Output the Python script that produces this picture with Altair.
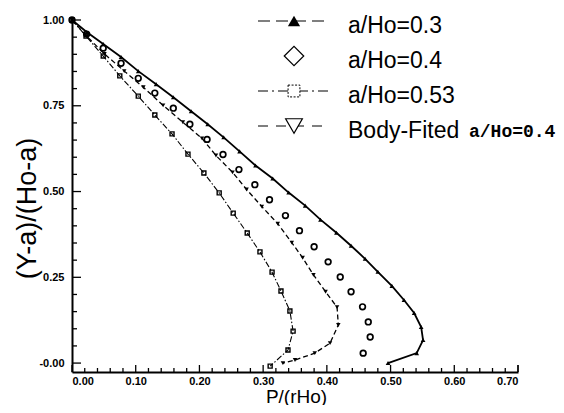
import altair as alt
import pandas as pd

# ---- data ----
# a/Ho=0.3 (solid line, filled triangles)
x03 = [0.000, 0.023, 0.049, 0.077, 0.104, 0.132, 0.159, 0.187, 0.213, 0.238, 0.263, 0.288, 0.315, 0.340,
       0.366, 0.390, 0.415, 0.438, 0.460, 0.480, 0.502, 0.521, 0.537, 0.548, 0.551, 0.541, 0.496]
y03 = [1.000, 0.965, 0.930, 0.892, 0.851, 0.813, 0.775, 0.734, 0.696, 0.658, 0.617, 0.576, 0.538, 0.497,
       0.459, 0.418, 0.380, 0.342, 0.304, 0.266, 0.225, 0.184, 0.146, 0.105, 0.067, 0.029, 0.000]
# a/Ho=0.4 (open circles, no line)
x04 = [0.000, 0.023, 0.049, 0.077, 0.104, 0.130, 0.159, 0.185, 0.212, 0.237, 0.262, 0.287, 0.310, 0.335,
       0.357, 0.380, 0.402, 0.421, 0.438, 0.456, 0.465, 0.468, 0.457]
y04 = [1.000, 0.959, 0.918, 0.874, 0.830, 0.787, 0.743, 0.696, 0.652, 0.608, 0.564, 0.520, 0.476, 0.430,
       0.386, 0.339, 0.295, 0.251, 0.208, 0.164, 0.120, 0.076, 0.029]
# a/Ho=0.53 (dash-dot line, small squares)
x053 = [0.000, 0.022, 0.049, 0.075, 0.104, 0.130, 0.157, 0.182, 0.207, 0.231, 0.253, 0.275, 0.295, 0.314,
        0.328, 0.342, 0.347, 0.339, 0.311]
y053 = [1.000, 0.953, 0.895, 0.837, 0.778, 0.723, 0.668, 0.609, 0.554, 0.496, 0.437, 0.379, 0.324, 0.265,
        0.210, 0.152, 0.093, 0.038, -0.009]
# Body-Fited a/Ho=0.4 (dashed line, small down triangles)
xbf = [0.000, 0.023, 0.051, 0.082, 0.112, 0.143, 0.174, 0.204, 0.226, 0.252, 0.274, 0.298, 0.323, 0.345,
       0.362, 0.379, 0.398, 0.416, 0.418, 0.405, 0.381, 0.350, 0.331]
ybf = [1.000, 0.953, 0.901, 0.851, 0.804, 0.751, 0.702, 0.655, 0.605, 0.556, 0.506, 0.456, 0.406, 0.351,
       0.307, 0.257, 0.208, 0.163, 0.111, 0.058, 0.029, 0.009, 0.000]

x_labels = [0.0, 0.1, 0.2, 0.3, 0.4, 0.5, 0.6, 0.7]
y_labels = [0.0, 0.25, 0.5, 0.75, 1.0]
x_minor = [round(i * 0.02, 2) for i in range(36)]
y_minor = [round(i * 0.05, 2) for i in range(21)]

legend_labels = ["a/Ho=0.3", "a/Ho=0.4", "a/Ho=0.53", "Body-Fited "]
legend_mono = "a/Ho=0.4"

W, H = 446, 352
SANS = "Liberation Sans"
xs = alt.Scale(domain=[0, 0.7], nice=False, zero=False)
ys = alt.Scale(domain=[-0.026, 1.0], nice=False, zero=False)


def frame(x, y):
    return pd.DataFrame({"x": x, "y": y})


one = alt.Data(values=[{"a": 1}])

x_axis = alt.Axis(values=x_labels, format=".2f", ticks=False, grid=False, domainColor="black",
                  domainWidth=2, labelFont=SANS, labelFontWeight="bold", labelFontSize=11,
                  labelColor="black", labelPadding=3, title="P/(rHo)", titleFont=SANS,
                  titleFontSize=19, titleFontWeight="normal", titleColor="black",
                  titleX=224, titleY=30, titleBaseline="alphabetic", titleAlign="center")
y_axis = alt.Axis(values=y_labels, ticks=False, grid=False, domainColor="black", domainWidth=2,
                  labelExpr="datum.value == 0 ? '-0.00' : format(datum.value, '.2f')",
                  labelFont=SANS, labelFontWeight="bold", labelFontSize=11, labelColor="black",
                  labelPadding=8, title="(Y-a)/(Ho-a)", titleFont=SANS, titleFontSize=27,
                  titleFontWeight="normal", titleColor="black", titleX=-45, titleY=188,
                  titleAlign="center", titleBaseline="middle")


def X():
    return alt.X("x:Q", scale=xs, axis=x_axis)


def Y():
    return alt.Y("y:Q", scale=ys, axis=y_axis)


layers = []

# a/Ho=0.3
layers.append(alt.Chart(frame(x03, y03)).transform_window(idx="row_number()").mark_line(
    color="black", strokeWidth=1.8).encode(x=X(), y=Y(), order="idx:Q"))
layers.append(alt.Chart(frame(x03, y03)).mark_point(shape="triangle-up", filled=True, size=22,
                                                     color="black", opacity=1).encode(x=X(), y=Y()))
# a/Ho=0.4
layers.append(alt.Chart(frame(x04, y04)).mark_point(shape="circle", filled=False, size=32,
                                                     strokeWidth=1.7, color="black", opacity=1).encode(x=X(), y=Y()))
# a/Ho=0.53
layers.append(alt.Chart(frame(x053, y053)).transform_window(idx="row_number()").mark_line(
    color="black", strokeWidth=1.1, strokeDash=[6, 2, 1.5, 2]).encode(x=X(), y=Y(), order="idx:Q"))
layers.append(alt.Chart(frame(x053, y053)).mark_point(shape="square", filled=False, size=16,
                                                       strokeWidth=1.4, color="black", opacity=1).encode(x=X(), y=Y()))
# Body-Fited
layers.append(alt.Chart(frame(xbf, ybf)).transform_window(idx="row_number()").mark_line(
    color="black", strokeWidth=1.3, strokeDash=[5, 3]).encode(x=X(), y=Y(), order="idx:Q"))
layers.append(alt.Chart(frame(xbf, ybf)).mark_point(shape="triangle-down", filled=True, size=20,
                                                     color="black", opacity=1).encode(x=X(), y=Y()))

# inward ticks
xmaj = [v for v in x_minor if abs(v * 10 - round(v * 10)) < 1e-6] + [0.7]
xmin = [v for v in x_minor if v not in xmaj]
ymaj = [v for v in y_minor if abs(v * 4 - round(v * 4)) < 1e-6]
ymin = [v for v in y_minor if v not in ymaj]
layers.append(alt.Chart(pd.DataFrame({"x": xmaj})).mark_rule(color="black", strokeWidth=1.3).encode(
    x=X(), y=alt.value(H), y2=alt.value(H - 7)))
layers.append(alt.Chart(pd.DataFrame({"x": xmin})).mark_rule(color="black", strokeWidth=1.3).encode(
    x=X(), y=alt.value(H), y2=alt.value(H - 4)))
layers.append(alt.Chart(pd.DataFrame({"y": ymaj})).mark_rule(color="black", strokeWidth=1.3).encode(
    y=Y(), x=alt.value(0), x2=alt.value(9)))
layers.append(alt.Chart(pd.DataFrame({"y": ymin})).mark_rule(color="black", strokeWidth=1.3).encode(
    y=Y(), x=alt.value(0), x2=alt.value(5)))

# ---- manual legend ----
LX0, LX1, SX, TX = 186, 258, 222, 276
rows = [1, 36, 71, 106]
layers.append(alt.Chart(one).mark_rule(color="black", strokeWidth=1.2, strokeDash=[12, 6]).encode(
    x=alt.value(LX0), x2=alt.value(LX1), y=alt.value(rows[0])))
layers.append(alt.Chart(one).mark_rule(color="black", strokeWidth=1.2, strokeDash=[10, 4, 2, 4]).encode(
    x=alt.value(LX0), x2=alt.value(LX1), y=alt.value(rows[2])))
layers.append(alt.Chart(one).mark_rule(color="black", strokeWidth=1.2, strokeDash=[10, 8]).encode(
    x=alt.value(LX0), x2=alt.value(LX1), y=alt.value(rows[3])))
layers.append(alt.Chart(one).mark_point(shape="triangle-up", filled=True, size=150, color="black",
                                        opacity=1).encode(x=alt.value(SX), y=alt.value(rows[0])))
layers.append(alt.Chart(one).mark_point(shape="diamond", filled=True, fill="white", stroke="black",
                                        size=380, strokeWidth=1.2, opacity=1).encode(
    x=alt.value(SX), y=alt.value(rows[1])))
layers.append(alt.Chart(one).mark_point(shape="square", filled=True, fill="white", stroke="black",
                                        size=140, strokeWidth=1, strokeDash=[2, 1.5],
                                        opacity=1).encode(x=alt.value(SX), y=alt.value(rows[2])))
layers.append(alt.Chart(one).mark_point(shape="triangle-down", filled=True, fill="white", stroke="black",
                                        size=280, strokeWidth=1.2, opacity=1).encode(
    x=alt.value(SX), y=alt.value(rows[3])))
for i, lab in enumerate(legend_labels):
    layers.append(alt.Chart(one).mark_text(text=lab, font=SANS, fontSize=23, align="left",
                                           baseline="middle", color="black").encode(
        x=alt.value(TX), y=alt.value(rows[i] + 5)))
layers.append(alt.Chart(one).mark_text(text=legend_mono, font="Liberation Mono", fontSize=18,
                                       fontWeight="bold", align="left", baseline="middle",
                                       color="black").encode(x=alt.value(397), y=alt.value(rows[3] + 6)))

chart = alt.layer(*layers).properties(
    width=W, height=H,
    autosize=alt.AutoSizeParams(type="none"),
    padding={"left": 64, "top": 12, "right": 38, "bottom": 33},
    background="white",
).configure_view(stroke=None)

chart.save("out.html", embed_options={"renderer": "svg", "actions": False})
